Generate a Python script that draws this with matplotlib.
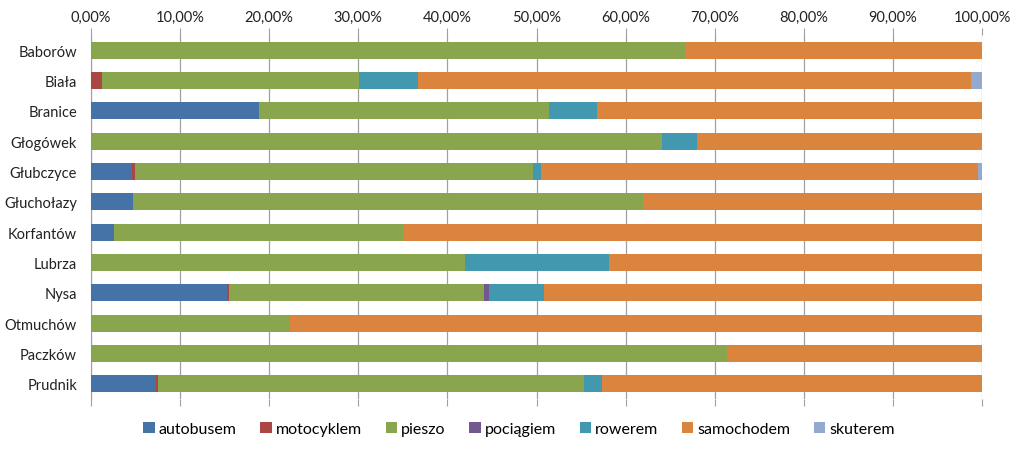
import matplotlib.pyplot as plt
from matplotlib.ticker import FuncFormatter
import numpy as np

plt.rcParams['font.family'] = ['Lato', 'DejaVu Sans']

gminy = ['Baborów', 'Biała', 'Branice', 'Głogówek', 'Głubczyce', 'Głuchołazy',
         'Korfantów', 'Lubrza', 'Nysa', 'Otmuchów', 'Paczków', 'Prudnik']

# shares in percent
autobusem = [0, 0, 18.9, 0, 4.6, 4.7, 2.6, 0, 15.3, 0, 0, 7.3]
motocyklem = [0, 1.2, 0, 0, 0.3, 0, 0, 0, 0.2, 0, 0, 0.2]
pieszo = [66.7, 28.9, 32.5, 64.1, 44.7, 57.3, 32.5, 42.0, 28.6, 22.3, 71.4, 47.8]
pociagiem = [0, 0, 0, 0, 0, 0, 0, 0, 0.6, 0, 0, 0]
rowerem = [0, 6.6, 5.4, 3.9, 0.9, 0, 0, 16.1, 6.1, 0, 0, 2.1]
samochodem = [33.3, 62.1, 43.2, 32.0, 49.1, 38.0, 64.9, 41.9, 49.2, 77.7, 28.6, 42.6]
skuterem = [0, 1.2, 0, 0, 0.4, 0, 0, 0, 0, 0, 0, 0]

series = [
    ('autobusem', autobusem, '#4572A7'),
    ('motocyklem', motocyklem, '#AA4643'),
    ('pieszo', pieszo, '#89A54E'),
    ('pociągiem', pociagiem, '#71588F'),
    ('rowerem', rowerem, '#4198AF'),
    ('samochodem', samochodem, '#DB843D'),
    ('skuterem', skuterem, '#93A9CF'),
]

fig = plt.figure(figsize=(10.24, 4.52), dpi=100)
ax = fig.add_axes([91 / 1024, 1 - 400 / 452, 891 / 1024, 364 / 452])

y = np.arange(len(gminy))
left = np.zeros(len(gminy))
for name, vals, color in series:
    vals = np.array(vals, dtype=float)
    ax.barh(y, vals, left=left, height=0.57, color=color, label=name, zorder=3)
    left += vals

ax.set_xlim(0, 100)
ax.set_ylim(len(gminy) - 0.5, -0.5)
ax.set_yticks(y)
ax.set_yticklabels(gminy, fontsize=10.5, color='#222222')
ax.set_xticks(np.arange(0, 101, 10))
ax.xaxis.set_major_formatter(FuncFormatter(lambda v, p: f'{v:.2f}%'.replace('.', ',')))
ax.xaxis.tick_top()
ax.tick_params(axis='x', labelsize=10.5, colors='#222222', length=5, width=0.8,
               direction='out', pad=3, top=True, bottom=True, labelbottom=False)
ax.tick_params(axis='x', color='#A0A0A0')
ax.tick_params(axis='y', length=0, pad=10)
ax.grid(axis='x', color='#A0A0A0', linewidth=0.9, zorder=0)
for s in ['top', 'right', 'bottom']:
    ax.spines[s].set_visible(False)
ax.spines['left'].set_color('#A0A0A0')

fig.legend(loc='center', bbox_to_anchor=(0.507, 1 - 430 / 452), ncol=7, frameon=False,
           fontsize=11.5, handlelength=0.7, handleheight=0.7, handletextpad=0.25,
           columnspacing=1.5)

fig.savefig('out.png', dpi=100)
